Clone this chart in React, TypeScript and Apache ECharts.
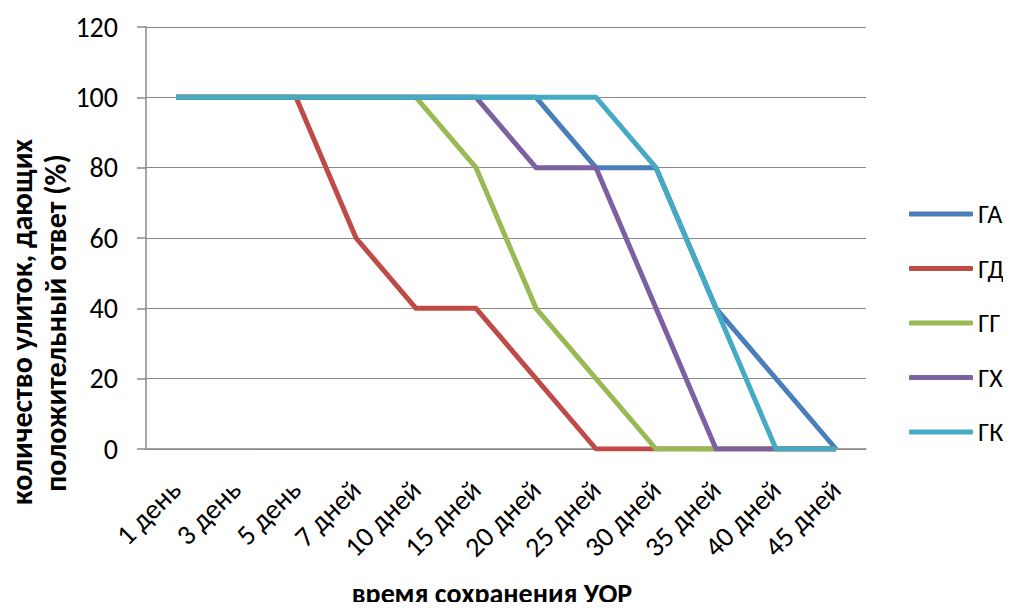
import React, { useEffect, useRef } from "react";
import * as echarts from "echarts";

const categories = ["1 день", "3 день", "5 день", "7 дней", "10 дней", "15 дней", "20 дней", "25 дней", "30 дней", "35 дней", "40 дней", "45 дней"];
const seriesNames = ["ГА", "ГД", "ГГ", "ГХ", "ГК"];
const gaValues = [100, 100, 100, 100, 100, 100, 100, 80, 80, 40, 20, 0];
const gdValues = [100, 100, 100, 60, 40, 40, 20, 0, 0, 0, 0, 0];
const ggValues = [100, 100, 100, 100, 100, 80, 40, 20, 0, 0, 0, 0];
const ghValues = [100, 100, 100, 100, 100, 100, 80, 80, 40, 0, 0, 0];
const gkValues = [100, 100, 100, 100, 100, 100, 100, 100, 80, 40, 0, 0];
const seriesValues = [gaValues, gdValues, ggValues, ghValues, gkValues];
const colors = ["#4A7EBB", "#BE4B48", "#98B954", "#7D60A0", "#46AAC5"];
const yTitle1 = "количество улиток, дающих";
const yTitle2 = "положительный ответ (%)";
const xTitle = "время сохранения УОР";

const FONT = 'Carlito, "Open Sans", "Noto Sans", sans-serif';

export default function App() {
  const ref = useRef<HTMLDivElement>(null);
  useEffect(() => {
    if (!ref.current) return;
    const chart = echarts.init(ref.current, undefined, { renderer: "svg" });
    chart.setOption({
      animation: false,
      backgroundColor: "#ffffff",
      textStyle: { fontFamily: FONT },
      grid: { left: 146, right: 145, top: 27, bottom: 161 },
      legend: {
        orient: "vertical",
        left: 904,
        top: 196,
        itemGap: 28.5,
        itemWidth: 64,
        itemHeight: 5,
        icon: "roundRect",
        textStyle: { fontSize: 26, color: "#000", fontFamily: FONT },
        data: seriesNames,
      },
      xAxis: {
        type: "category",
        data: categories,
        boundaryGap: true,
        axisLine: { lineStyle: { color: "#888888", width: 1.5 } },
        axisTick: { show: false },
        axisLabel: { rotate: 45, fontSize: 28, color: "#000", margin: 36, interval: 0, fontFamily: FONT },
      },
      yAxis: {
        type: "value",
        min: 0,
        max: 120,
        interval: 20,
        axisLine: { show: true, lineStyle: { color: "#888888", width: 1.5 } },
        axisTick: { show: true, length: 9, lineStyle: { color: "#888888", width: 1.5 } },
        splitLine: { lineStyle: { color: "#888888", width: 1.2 } },
        axisLabel: { fontSize: 28, color: "#000", margin: 28, fontFamily: FONT },
      },
      graphic: [
        {
          type: "text",
          x: 21,
          y: 322,
          rotation: Math.PI / 2,
          style: { text: yTitle1, font: `bold 30px ${FONT}`, fill: "#000", align: "center", verticalAlign: "middle" },
        },
        {
          type: "text",
          x: 55,
          y: 323,
          rotation: Math.PI / 2,
          style: { text: yTitle2, font: `bold 30px ${FONT}`, fill: "#000", align: "center", verticalAlign: "middle" },
        },
        {
          type: "text",
          x: 492,
          y: 593,
          style: { text: xTitle, font: `bold 28px ${FONT}`, fill: "#000", align: "center", verticalAlign: "middle" },
        },
      ],
      series: seriesNames.map((name, i) => ({
        name,
        type: "line",
        data: seriesValues[i],
        symbol: "none",
        color: colors[i],
        lineStyle: { width: 5, color: colors[i], join: "round" },
      })),
    });
    return () => chart.dispose();
  }, []);
  return <div ref={ref} style={{ width: 1011, height: 610, margin: -8 }} />;
}
